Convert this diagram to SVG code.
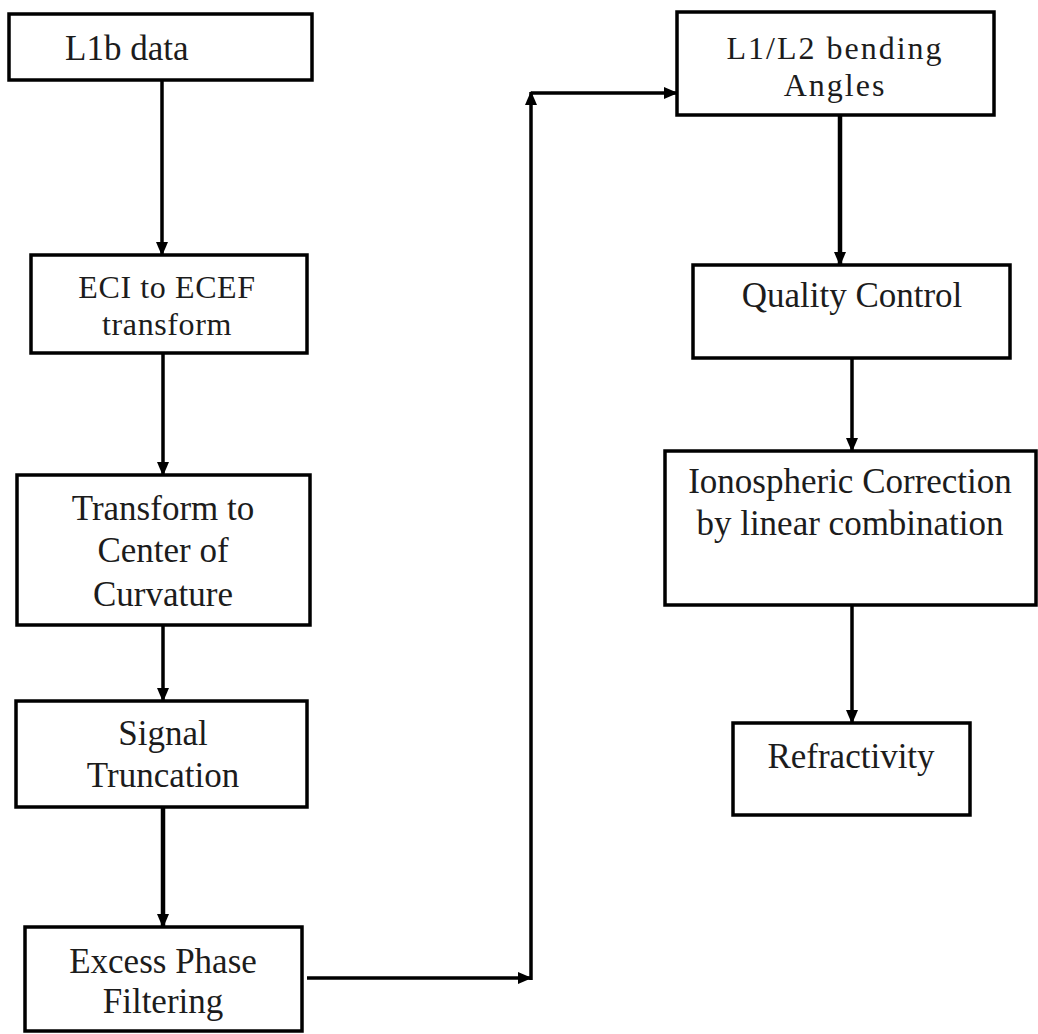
<svg xmlns="http://www.w3.org/2000/svg" width="1038" height="1034" viewBox="0 0 1038 1034">
<style>
.box{fill:#fff;stroke:#000;stroke-width:3.5}
.lbl{font-family:"Liberation Serif","Times New Roman",serif;font-size:35px;fill:#1c1c1c;text-anchor:middle}
.tight{font-size:32px}
.edge{fill:none;stroke:#000;stroke-width:3.5}
</style>
<defs>
<marker id="arr" markerUnits="userSpaceOnUse" markerWidth="14" markerHeight="14" refX="13" refY="7" orient="auto">
<path d="M0,1 L14,7 L0,13 Z" fill="#000"/>
</marker>
</defs>
<rect width="1038" height="1034" fill="#fff"/>
<g id="connectors">
<line class="edge" x1="162" y1="80" x2="162" y2="255" marker-end="url(#arr)"/>
<line class="edge" x1="163" y1="353" x2="163" y2="475" marker-end="url(#arr)"/>
<line class="edge" x1="163" y1="625" x2="163" y2="701" marker-end="url(#arr)"/>
<line class="edge" x1="163" y1="807" x2="163" y2="927" marker-end="url(#arr)" style="stroke-width:4.5"/>
<line class="edge" x1="307" y1="978" x2="531" y2="978" marker-end="url(#arr)"/>
<line class="edge" x1="531" y1="980" x2="531" y2="92" marker-end="url(#arr)"/>
<line class="edge" x1="531" y1="93" x2="677" y2="93" marker-end="url(#arr)"/>
<line class="edge" x1="840" y1="115" x2="840" y2="265" marker-end="url(#arr)" style="stroke-width:4.5"/>
<line class="edge" x1="852" y1="358" x2="852" y2="451" marker-end="url(#arr)"/>
<line class="edge" x1="852" y1="605" x2="852" y2="723" marker-end="url(#arr)"/>
</g>
<g id="n-l1b">
<rect class="box" x="9" y="14" width="303" height="66"/>
<text class="lbl" x="65" y="60" style="text-anchor:start">L1b data</text>
</g>
<g id="n-eci">
<rect class="box" x="31" y="255" width="276" height="98"/>
<text class="lbl tight" x="167" y="298" style="letter-spacing:0.6px">ECI to ECEF<tspan x="167" dy="37">transform</tspan></text>
</g>
<g id="n-transform">
<rect class="box" x="17" y="475" width="293" height="150"/>
<text class="lbl" x="163" y="520">Transform to<tspan x="163" dy="42">Center of</tspan><tspan x="163" dy="44">Curvature</tspan></text>
</g>
<g id="n-signal">
<rect class="box" x="16" y="701" width="291" height="106"/>
<text class="lbl" x="163" y="745">Signal<tspan x="163" dy="42">Truncation</tspan></text>
</g>
<g id="n-excess">
<rect class="box" x="25" y="927" width="277" height="104"/>
<text class="lbl" x="163" y="973">Excess Phase<tspan x="163" dy="40">Filtering</tspan></text>
</g>
<g id="n-bending">
<rect class="box" x="677" y="12" width="317" height="103"/>
<text class="lbl tight" x="835" y="59" style="letter-spacing:2px">L1/L2 bending<tspan x="835" dy="37">Angles</tspan></text>
</g>
<g id="n-quality">
<rect class="box" x="693" y="265" width="317" height="93"/>
<text class="lbl" x="852" y="307">Quality Control</text>
</g>
<g id="n-iono">
<rect class="box" x="665" y="451" width="371" height="154"/>
<text class="lbl" x="850" y="493">Ionospheric Correction<tspan x="850" dy="42">by linear combination</tspan></text>
</g>
<g id="n-refr">
<rect class="box" x="733" y="723" width="237" height="92"/>
<text class="lbl" x="851" y="768">Refractivity</text>
</g>
</svg>
